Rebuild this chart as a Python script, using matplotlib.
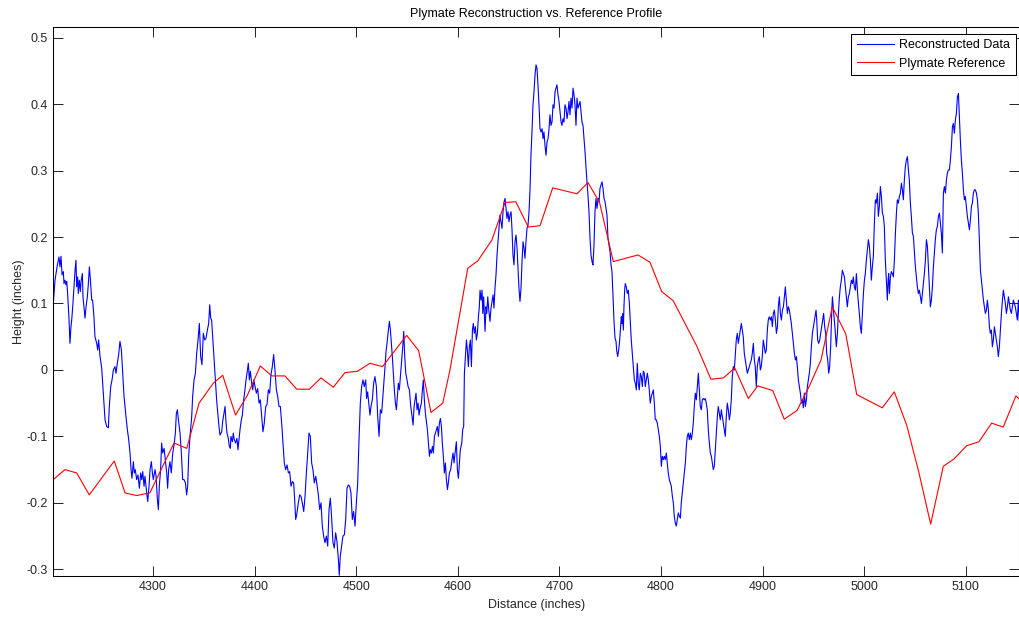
import matplotlib.pyplot as plt

plt.rcParams['font.family'] = ['Liberation Sans', 'DejaVu Sans']
plt.rcParams['axes.unicode_minus'] = False

# Plymate reference profile (red)
ref_dist = [4202.0, 4213.5, 4225.0, 4237.4, 4262.0, 4272.6, 4284.0, 4297.0, 4308.0, 4320.8,
            4333.3, 4345.4, 4359.4, 4368.7, 4381.3, 4393.0, 4405.7, 4417.0, 4430.0, 4441.5,
            4454.0, 4465.4, 4477.5, 4489.0, 4501.3, 4513.6, 4525.9, 4549.7, 4561.5, 4573.6,
            4585.2, 4592.3, 4609.8, 4619.6, 4633.4, 4646.5, 4657.1, 4669.4, 4680.9, 4693.4,
            4717.3, 4728.1, 4739.5, 4753.0, 4777.3, 4789.1, 4800.6, 4812.0, 4835.1, 4849.1,
            4861.3, 4872.5, 4885.9, 4895.1, 4909.9, 4921.2, 4933.8, 4946.3, 4957.4, 4968.5,
            4981.8, 4992.5, 5017.7, 5029.5, 5041.7, 5053.8, 5065.3, 5077.7, 5088.2, 5100.7,
            5112.8, 5125.3, 5136.7, 5149.2, 5152.5]
ref_height = [-0.165, -0.150, -0.155, -0.188, -0.137, -0.185, -0.189, -0.185, -0.150, -0.110,
              -0.118, -0.050, -0.020, -0.008, -0.068, -0.038, 0.006, -0.009, -0.009, -0.029,
              -0.029, -0.012, -0.026, -0.004, -0.002, 0.010, 0.005, 0.052, 0.029, -0.064,
              -0.050, 0.000, 0.153, 0.164, 0.195, 0.252, 0.253, 0.215, 0.217, 0.274,
              0.265, 0.282, 0.252, 0.163, 0.173, 0.162, 0.118, 0.104, 0.036, -0.014,
              -0.012, 0.003, -0.043, -0.024, -0.031, -0.074, -0.061, -0.023, 0.015, 0.095,
              0.054, -0.037, -0.057, -0.033, -0.083, -0.155, -0.232, -0.145, -0.134, -0.114,
              -0.108, -0.080, -0.086, -0.039, -0.044]

# reconstructed profile (blue)
recon_dist = [
    4202.0, 4203.7, 4206.0, 4207.6, 4208.6, 4209.6, 4210.6, 4211.9, 4212.5, 4213.5,
    4214.5, 4215.2, 4216.1, 4216.8, 4217.5, 4218.4, 4219.4, 4220.1, 4221.1, 4222.4,
    4223.4, 4224.3, 4225.0, 4226.0, 4226.6, 4227.6, 4228.6, 4229.3, 4230.6, 4231.2,
    4232.5, 4233.2, 4234.2, 4235.5, 4236.5, 4237.5, 4238.4, 4239.8, 4240.7, 4242.0,
    4243.0, 4244.7, 4245.7, 4246.6, 4248.0, 4249.6, 4250.6, 4251.6, 4252.9, 4254.5,
    4256.2, 4257.1, 4258.5, 4259.8, 4261.1, 4262.7, 4263.7, 4265.0, 4266.3, 4267.6,
    4269.0, 4270.3, 4271.6, 4273.5, 4274.9, 4276.2, 4277.5, 4278.5, 4279.4, 4280.8,
    4281.7, 4282.7, 4284.0, 4285.3, 4286.7, 4288.0, 4289.0, 4290.0, 4291.3, 4292.2,
    4293.9, 4294.9, 4296.2, 4297.2, 4298.5, 4299.5, 4300.4, 4302.1, 4303.1, 4304.4,
    4305.4, 4306.3, 4307.6, 4308.6, 4309.6, 4311.0, 4312.2, 4313.6, 4314.5, 4315.5,
    4316.8, 4318.1, 4319.5, 4320.8, 4322.1, 4323.1, 4324.1, 4325.1, 4326.7, 4328.0,
    4329.3, 4330.6, 4332.0, 4333.2, 4334.2, 4335.2, 4336.5, 4338.2, 4339.1, 4340.5,
    4341.8, 4343.1, 4344.4, 4345.7, 4347.0, 4348.3, 4349.6, 4351.0, 4352.3, 4353.6,
    4354.9, 4355.9, 4356.9, 4357.8, 4358.8, 4360.1, 4361.1,
    4362.7, 4365.0, 4366.0, 4367.7, 4368.6, 4370.0, 4371.0, 4371.9, 4372.9, 4374.2,
    4375.2, 4376.2, 4376.8, 4378.2, 4379.1, 4380.1, 4381.4, 4382.7, 4383.7, 4384.7,
    4385.7, 4386.7, 4388.0, 4389.3, 4390.6, 4391.6, 4392.6, 4393.9, 4394.9, 4395.9,
    4397.2, 4398.2, 4399.2, 4400.5, 4401.8, 4403.1, 4404.4, 4405.7, 4407.0, 4408.3,
    4409.6, 4411.0, 4412.3, 4413.6, 4414.9, 4416.2, 4417.5, 4418.8, 4420.1, 4421.5,
    4422.8, 4424.1, 4425.4, 4426.7, 4428.0, 4429.3, 4430.6, 4432.0, 4433.3, 4434.6,
    4435.9, 4437.2, 4438.5, 4439.5, 4440.5, 4441.5, 4443.1, 4444.4, 4445.7, 4447.0,
    4448.4, 4449.7, 4451.0, 4452.3, 4453.6, 4454.9, 4456.2, 4457.5, 4458.8, 4460.2,
    4461.5, 4462.8, 4464.1, 4465.4, 4466.7, 4468.0, 4469.3, 4470.7, 4472.0, 4473.3,
    4474.6, 4475.9, 4477.2, 4478.5, 4479.8, 4481.1, 4482.5, 4483.4, 4484.4, 4485.7,
    4487.0, 4488.4, 4489.7, 4491.0, 4492.3, 4493.6, 4494.9, 4496.2, 4497.5, 4498.9,
    4500.2, 4501.5, 4502.8, 4504.1, 4505.4, 4506.7, 4508.0, 4509.4, 4510.3, 4511.3,
    4512.6, 4513.6, 4514.6, 4515.9, 4517.2, 4518.5, 4519.9, 4521.2, 4522.5, 4523.8,
    4525.1, 4526.8, 4528.4, 4529.4, 4530.7, 4531.7, 4532.7, 4533.7, 4534.7, 4535.6,
    4536.6, 4537.6, 4538.6, 4539.6, 4540.6, 4541.5, 4542.5, 4543.8, 4545.1, 4546.1,
    4546.8, 4547.8, 4548.8, 4549.7, 4551.1, 4552.4, 4553.7, 4555.0, 4556.0, 4557.0,
    4557.9, 4558.9, 4559.9, 4560.9, 4561.9, 4562.9, 4564.2, 4565.2, 4566.1, 4567.1,
    4568.1, 4569.1, 4570.1, 4571.1, 4572.1, 4573.0, 4574.0, 4575.0, 4576.0, 4577.0,
    4578.0, 4579.0, 4579.9, 4580.9, 4581.9, 4582.9, 4583.9, 4584.8, 4585.8, 4586.8,
    4587.8, 4588.8, 4589.8, 4590.7, 4591.7, 4593.0, 4594.3, 4595.3, 4596.3, 4597.3,
    4598.6, 4599.6, 4600.6, 4601.6, 4602.5, 4603.9, 4604.8, 4605.8, 4606.5, 4607.5,
    4608.5, 4609.4, 4610.4, 4611.4, 4612.4, 4613.4, 4614.4, 4615.3, 4616.3, 4617.3,
    4618.3, 4619.3, 4620.3, 4621.2, 4621.9,
    4622.9, 4623.9, 4624.6, 4625.5, 4626.8, 4627.8, 4628.5, 4629.5, 4630.5,
    4631.7, 4632.7, 4633.7, 4634.7, 4635.6, 4636.6, 4637.6, 4638.6, 4639.6, 4640.6,
    4641.5, 4642.5, 4643.5, 4644.5, 4645.5, 4646.5, 4647.4, 4648.4, 4649.4, 4650.4,
    4651.4, 4652.4, 4653.3, 4654.3, 4655.3, 4656.3, 4657.3, 4658.3, 4659.3, 4660.2,
    4661.2, 4662.2, 4663.2, 4664.2, 4665.2, 4666.1, 4667.1, 4668.1, 4669.1, 4670.1,
    4671.1, 4672.0, 4673.0, 4674.0, 4675.0, 4676.0, 4677.0, 4677.9, 4678.9, 4679.9,
    4680.9, 4681.9, 4682.9, 4683.9, 4684.8, 4685.8, 4686.8, 4687.8, 4688.8, 4689.8,
    4690.7, 4691.7, 4692.7, 4693.7, 4694.7, 4695.7, 4696.6, 4697.6, 4698.6, 4699.6,
    4700.6, 4701.6, 4702.5, 4703.5, 4704.5, 4705.5, 4706.5, 4707.5, 4708.5, 4709.4,
    4710.4, 4711.4, 4712.4, 4713.4, 4714.4, 4715.3, 4716.3, 4717.3, 4718.3, 4719.3,
    4720.3, 4721.2, 4722.2, 4723.2, 4724.2, 4725.2, 4726.2, 4727.1, 4728.1, 4729.1,
    4730.1, 4731.1, 4732.1, 4733.0, 4734.0, 4735.0, 4736.0, 4737.0, 4738.0, 4739.0,
    4739.9, 4740.9, 4741.9, 4742.9, 4743.9, 4744.9, 4745.8, 4746.8, 4747.8, 4748.8,
    4749.8, 4750.8, 4751.7, 4752.7, 4753.7, 4754.7, 4755.7,
    4756.3, 4757.3, 4758.3, 4759.3, 4760.2, 4760.9, 4761.5, 4762.2, 4762.9, 4763.5,
    4764.2, 4764.8, 4765.8, 4766.8, 4767.8, 4768.8, 4769.7, 4770.7, 4771.7, 4772.7,
    4773.7, 4774.7, 4775.7, 4776.6, 4777.6, 4778.6, 4779.6, 4780.6, 4781.6, 4782.5,
    4783.5, 4784.5, 4785.5, 4786.5, 4787.5, 4788.4, 4789.4, 4790.4, 4791.4, 4792.4,
    4793.4, 4794.3, 4795.3, 4796.3, 4797.3, 4798.3, 4799.3, 4800.3, 4801.2, 4802.2,
    4803.2, 4804.2, 4805.2, 4806.2, 4807.1, 4808.1, 4809.1, 4810.1, 4811.1, 4812.1,
    4813.0, 4814.0, 4815.0, 4816.0, 4817.0, 4818.0, 4819.0, 4819.9, 4820.9, 4821.9,
    4822.9, 4823.9, 4824.9, 4825.8, 4826.8, 4827.8, 4828.8, 4829.8, 4830.8, 4831.7,
    4832.7, 4833.7, 4834.7, 4835.7, 4836.7, 4837.6, 4838.6, 4839.6, 4840.6, 4841.6,
    4842.6, 4843.5, 4844.5, 4845.5, 4846.5, 4847.5, 4848.5, 4849.5, 4850.4, 4851.4,
    4852.4, 4853.4, 4854.4, 4855.4, 4856.3, 4857.3, 4858.3, 4859.3, 4860.3, 4861.3,
    4862.2, 4863.2, 4864.2, 4865.2, 4866.2, 4867.2, 4868.1, 4869.1, 4870.1, 4871.1,
    4872.1, 4873.1, 4874.0, 4875.0, 4876.0, 4877.0, 4878.0, 4879.0, 4880.0, 4880.9,
    4881.9, 4882.9, 4883.9, 4884.9, 4885.9, 4886.8, 4887.8, 4888.8, 4889.8, 4890.8,
    4891.8, 4892.7, 4893.7, 4894.7, 4895.7, 4896.7, 4897.7, 4898.6, 4899.6, 4900.6,
    4901.6, 4902.6, 4903.6, 4904.6, 4905.5, 4906.5,
    4907.6, 4908.6, 4909.5, 4910.5, 4911.5, 4912.5, 4913.5, 4914.5, 4915.4, 4916.4,
    4917.4, 4918.4, 4919.4, 4920.4, 4921.3, 4922.3, 4923.3, 4924.3, 4925.3, 4926.3,
    4927.2, 4928.2, 4929.2, 4930.2, 4931.2, 4932.2, 4933.2, 4934.1, 4935.1, 4936.1,
    4937.1, 4938.1, 4939.1, 4940.0, 4941.0, 4942.0, 4943.0, 4944.0, 4945.0, 4945.9,
    4946.9, 4947.9, 4948.9, 4949.9, 4950.9, 4951.9, 4952.5, 4953.2, 4954.1, 4955.1,
    4956.1, 4957.1, 4958.1, 4959.1, 4960.0, 4961.0, 4962.0, 4963.0, 4964.0, 4965.0,
    4965.9, 4966.9, 4967.9, 4968.6, 4969.6, 4970.5, 4971.5, 4972.5, 4973.5, 4974.5,
    4975.5, 4976.4, 4977.4, 4978.4, 4979.4, 4980.4, 4981.4, 4982.4, 4983.3, 4984.3,
    4985.3, 4986.3, 4987.3, 4988.3, 4989.2, 4990.2, 4991.2, 4992.2, 4993.2, 4994.2,
    4995.1, 4996.1, 4997.1, 4998.1, 4999.1, 5000.1, 5001.0, 5002.0, 5003.0, 5004.0,
    5005.0, 5006.0, 5006.9, 5007.9, 5008.9, 5009.9, 5010.9, 5011.9, 5012.9, 5013.8,
    5014.8, 5015.8, 5016.8, 5017.8, 5018.8, 5019.7, 5020.7, 5021.7, 5022.7, 5023.4,
    5024.0, 5024.7, 5025.7, 5026.6, 5027.6, 5028.6, 5029.6, 5030.6, 5031.6, 5032.5,
    5033.5, 5034.5, 5035.5, 5036.5, 5037.5, 5038.4, 5039.4, 5040.4, 5041.4, 5042.4,
    5043.4, 5044.3, 5045.3, 5046.3, 5047.3, 5048.3, 5049.3, 5050.2, 5051.2, 5052.2,
    5053.2, 5054.2, 5055.2, 5056.2, 5057.1, 5058.1, 5059.1, 5060.1, 5061.1, 5062.1,
    5063.0, 5064.0, 5065.0, 5066.0, 5067.0, 5068.0, 5069.0, 5069.9, 5070.9, 5071.9,
    5072.9, 5073.9, 5074.8, 5075.8, 5076.8, 5077.8, 5078.8, 5079.8, 5080.8, 5081.7,
    5082.7, 5083.7, 5084.7, 5085.7, 5086.7, 5087.6, 5088.6, 5089.6, 5090.6, 5091.6,
    5092.6, 5093.5, 5094.5, 5095.5, 5096.5, 5097.5, 5098.5, 5099.4, 5100.4, 5101.4,
    5102.4, 5103.4, 5104.4, 5105.4, 5106.3, 5107.3, 5108.3, 5109.3, 5110.3, 5111.3,
    5112.2, 5113.2, 5114.2, 5115.2, 5116.2, 5117.2, 5118.1, 5119.1, 5120.1, 5121.1,
    5122.1, 5123.1, 5124.0, 5125.0, 5126.0, 5127.0, 5128.0, 5129.0, 5130.0, 5130.9,
    5131.9, 5132.9, 5133.9, 5134.9, 5135.9, 5136.8, 5137.8, 5138.8, 5139.8, 5140.8,
    5141.8, 5142.7, 5143.7, 5144.7, 5145.7, 5146.7, 5147.7, 5148.6, 5149.6, 5150.6,
    5151.6, 5152.5,
]
recon_height = [
    0.100, 0.135, 0.158, 0.170, 0.155, 0.171, 0.143, 0.148, 0.130, 0.135,
    0.128, 0.133, 0.115, 0.095, 0.075, 0.040, 0.065, 0.075, 0.095, 0.125,
    0.150, 0.165, 0.125, 0.140, 0.115, 0.135, 0.118, 0.133, 0.145, 0.110,
    0.090, 0.078, 0.095, 0.110, 0.130, 0.155, 0.138, 0.105, 0.105, 0.080,
    0.050, 0.040, 0.030, 0.045, 0.020, 0.003, -0.020, -0.045, -0.075, -0.085,
    -0.087, -0.055, -0.025, -0.015, 0.000, 0.005, -0.005, 0.010, 0.023, 0.043,
    0.030, -0.005, -0.040, -0.070, -0.090, -0.105, -0.125, -0.150, -0.163, -0.138,
    -0.155, -0.150, -0.165, -0.158, -0.178, -0.155, -0.165, -0.153, -0.175, -0.160,
    -0.185, -0.198, -0.175, -0.150, -0.138, -0.155, -0.165, -0.150, -0.160, -0.195,
    -0.210, -0.175, -0.150, -0.110, -0.125, -0.118, -0.135, -0.155, -0.178, -0.150,
    -0.138, -0.155, -0.125, -0.113, -0.095, -0.065, -0.060, -0.075, -0.095, -0.125,
    -0.165, -0.165, -0.170, -0.188, -0.175, -0.130, -0.100, -0.070, -0.040, -0.015,
    -0.005, 0.025, 0.045, 0.070, 0.020, 0.008, 0.055, 0.045, 0.048, 0.060,
    0.070, 0.098, 0.078, 0.075, 0.050, 0.020, -0.010,
    -0.045, -0.085, -0.098, -0.093, -0.078, -0.065, -0.055, -0.078, -0.095, -0.103,
    -0.115, -0.118, -0.100, -0.108, -0.095, -0.105, -0.110, -0.103, -0.120, -0.105,
    -0.090, -0.078, -0.068, -0.045, -0.030, -0.015, -0.005, 0.010, -0.015, -0.002,
    -0.020, -0.030, -0.015, -0.025, -0.035, -0.028, -0.050, -0.045, -0.070, -0.093,
    -0.080, -0.055, -0.052, -0.030, -0.035, -0.007, 0.005, 0.023, 0.000, -0.030,
    -0.040, -0.055, -0.055, -0.080, -0.110, -0.140, -0.150, -0.143, -0.155, -0.153,
    -0.175, -0.168, -0.170, -0.195, -0.225, -0.218, -0.200, -0.188, -0.190, -0.200,
    -0.213, -0.190, -0.155, -0.125, -0.095, -0.100, -0.140, -0.150, -0.170, -0.160,
    -0.173, -0.188, -0.210, -0.200, -0.235, -0.250, -0.260, -0.250, -0.265, -0.210,
    -0.193, -0.223, -0.260, -0.268, -0.245, -0.258, -0.285, -0.309, -0.280, -0.265,
    -0.250, -0.248, -0.225, -0.178, -0.173, -0.175, -0.185, -0.225, -0.213, -0.235,
    -0.200, -0.170, -0.105, -0.050, -0.025, -0.015, -0.025, -0.015, -0.043, -0.033,
    -0.053, -0.068, -0.055, -0.045, -0.020, -0.010, -0.025, -0.070, -0.100, -0.060,
    -0.065, -0.030, 0.005, 0.028, 0.045, 0.060, 0.073, 0.060, 0.040, 0.020,
    -0.005, -0.030, -0.050, -0.060, -0.040, -0.020, -0.030, -0.005, 0.020, 0.040,
    0.058, 0.020, -0.005, -0.012, -0.025, -0.030, -0.055, -0.070, -0.083, -0.055,
    -0.045, -0.035, -0.060, -0.050, -0.068, -0.058, -0.050, -0.030, -0.015, -0.045,
    -0.065, -0.078, -0.090, -0.110, -0.130, -0.120, -0.125, -0.115, -0.125, -0.100,
    -0.095, -0.090, -0.085, -0.100, -0.080, -0.073, -0.085, -0.110, -0.130, -0.155,
    -0.140, -0.165, -0.180, -0.170, -0.155, -0.150, -0.135, -0.125, -0.140, -0.125,
    -0.108, -0.150, -0.163, -0.140, -0.120, -0.110, -0.090, -0.085, -0.005, 0.020,
    0.045, 0.030, 0.005, 0.035, 0.045, 0.005, 0.060, 0.070, 0.055, 0.065,
    0.045, 0.055, 0.080, 0.095, 0.120,
    0.105, 0.120, 0.085, 0.110, 0.058, 0.095, 0.085, 0.110, 0.090,
    0.073, 0.093, 0.103, 0.113, 0.093, 0.123, 0.143, 0.173, 0.193, 0.213,
    0.233, 0.223, 0.213, 0.238, 0.253, 0.258, 0.243, 0.228, 0.238, 0.223,
    0.233, 0.238, 0.213, 0.173, 0.158, 0.193, 0.203, 0.183, 0.153, 0.123,
    0.103, 0.123, 0.163, 0.193, 0.183, 0.168, 0.193, 0.213, 0.218, 0.238,
    0.273, 0.323, 0.358, 0.399, 0.419, 0.444, 0.459, 0.454, 0.429, 0.399,
    0.363, 0.358, 0.363, 0.348, 0.358, 0.338, 0.323, 0.343, 0.348, 0.363,
    0.384, 0.368, 0.373, 0.399, 0.394, 0.419, 0.424, 0.429, 0.414, 0.404,
    0.389, 0.373, 0.368, 0.378, 0.373, 0.399, 0.394, 0.378, 0.389, 0.404,
    0.384, 0.409, 0.394, 0.424, 0.414, 0.399, 0.368, 0.409, 0.394, 0.399,
    0.404, 0.389, 0.373, 0.368, 0.348, 0.328, 0.303, 0.283, 0.263, 0.238,
    0.198, 0.173, 0.163, 0.158, 0.188, 0.238, 0.258, 0.243, 0.258, 0.253,
    0.273, 0.278, 0.283, 0.273, 0.258, 0.253, 0.243, 0.233, 0.198, 0.188,
    0.178, 0.158, 0.148, 0.113, 0.073, 0.048, 0.043,
    0.030, 0.020, 0.030, 0.045, 0.065, 0.080, 0.070, 0.085, 0.060, 0.095,
    0.120, 0.130, 0.125, 0.115, 0.120, 0.100, 0.075, 0.045, 0.025, 0.005,
    -0.015, -0.020, -0.030, 0.010, -0.020, -0.030, -0.005, -0.010, -0.025, -0.002,
    -0.005, -0.025, -0.015, -0.005, -0.015, -0.030, -0.050, -0.040, -0.035, -0.030,
    -0.050, -0.075, -0.075, -0.080, -0.090, -0.100, -0.115, -0.145, -0.130, -0.135,
    -0.130, -0.135, -0.125, -0.140, -0.155, -0.165, -0.170, -0.175, -0.190, -0.200,
    -0.220, -0.230, -0.235, -0.225, -0.215, -0.220, -0.223, -0.200, -0.185, -0.170,
    -0.155, -0.140, -0.115, -0.100, -0.095, -0.105, -0.095, -0.105, -0.095, -0.080,
    -0.055, -0.035, -0.045, -0.025, -0.005, -0.030, -0.055, -0.060, -0.045, -0.043,
    -0.045, -0.043, -0.050, -0.060, -0.090, -0.110, -0.125, -0.130, -0.140, -0.150,
    -0.145, -0.120, -0.095, -0.070, -0.055, -0.065, -0.075, -0.060, -0.070, -0.080,
    -0.090, -0.100, -0.070, -0.050, -0.060, -0.075, -0.065, -0.045, -0.010, 0.005,
    0.000, 0.025, 0.045, 0.055, 0.040, 0.050, 0.060, 0.070, 0.060, 0.050,
    0.025, 0.015, 0.005, -0.005, 0.000, 0.005, 0.010, 0.015, 0.025, 0.040,
    0.015, 0.005, -0.025, 0.005, 0.015, 0.020, 0.000, 0.005, 0.020, 0.045,
    0.035, 0.025, 0.030, 0.060, 0.075, 0.080,
    0.075, 0.080, 0.065, 0.085, 0.090, 0.075, 0.055, 0.065, 0.095, 0.110,
    0.085, 0.075, 0.090, 0.095, 0.110, 0.125, 0.105, 0.085, 0.095, 0.090,
    0.080, 0.070, 0.055, 0.040, 0.025, 0.015, 0.020, 0.005, -0.015, -0.025,
    -0.035, -0.050, -0.045, -0.057, -0.035, -0.055, -0.045, -0.025, -0.015, -0.005,
    0.010, 0.035, 0.055, 0.065, 0.075, 0.085, 0.090, 0.075, 0.045, 0.040,
    0.045, 0.055, 0.065, 0.075, 0.085, 0.065, 0.055, 0.025, 0.015, -0.005,
    0.005, 0.035, 0.085, 0.110, 0.090, 0.075, 0.055, 0.035, 0.055, 0.085,
    0.110, 0.125, 0.135, 0.150, 0.145, 0.140, 0.125, 0.110, 0.095, 0.110,
    0.115, 0.125, 0.135, 0.130, 0.140, 0.125, 0.120, 0.145, 0.120, 0.100,
    0.085, 0.065, 0.055, 0.085, 0.115, 0.135, 0.145, 0.165, 0.181, 0.196,
    0.186, 0.165, 0.135, 0.155, 0.171, 0.221, 0.256, 0.251, 0.266, 0.231,
    0.246, 0.276, 0.261, 0.236, 0.231, 0.216, 0.165, 0.135, 0.105, 0.135,
    0.145, 0.115, 0.140, 0.148, 0.145, 0.140, 0.165, 0.206, 0.236, 0.256,
    0.251, 0.261, 0.266, 0.281, 0.271, 0.256, 0.286, 0.306, 0.316, 0.321,
    0.301, 0.286, 0.251, 0.231, 0.206, 0.201, 0.176, 0.156, 0.140, 0.125,
    0.115, 0.120, 0.110, 0.100, 0.115, 0.130, 0.145, 0.165, 0.196, 0.186,
    0.156, 0.125, 0.095, 0.105, 0.125, 0.156, 0.176, 0.196, 0.211, 0.216,
    0.231, 0.236, 0.221, 0.206, 0.176, 0.266, 0.276, 0.266, 0.286, 0.296,
    0.301, 0.301, 0.316, 0.336, 0.366, 0.371, 0.356, 0.376, 0.386, 0.411,
    0.416, 0.381, 0.346, 0.316, 0.296, 0.271, 0.256, 0.261, 0.246, 0.231,
    0.221, 0.211, 0.226, 0.246, 0.251, 0.266, 0.271, 0.271, 0.266, 0.256,
    0.236, 0.196, 0.151, 0.135, 0.120, 0.105, 0.095, 0.085, 0.090, 0.105,
    0.090, 0.065, 0.055, 0.060, 0.035, 0.045, 0.065, 0.055, 0.045, 0.035,
    0.020, 0.035, 0.060, 0.085, 0.105, 0.120, 0.110, 0.100, 0.085, 0.095,
    0.110, 0.100, 0.090, 0.085, 0.095, 0.105, 0.100, 0.095, 0.085, 0.075,
    0.105, 0.075,
]
assert len(recon_dist) == len(recon_height)

x_ticks = [4300, 4400, 4500, 4600, 4700, 4800, 4900, 5000, 5100]
y_ticks = [-0.3, -0.2, -0.1, 0.0, 0.1, 0.2, 0.3, 0.4, 0.5]
y_tick_labels = ['-0.3', '-0.2', '-0.1', '0', '0.1', '0.2', '0.3', '0.4', '0.5']

fig = plt.figure(figsize=(10.2, 6.17), dpi=100)
ax = fig.add_axes([53.3 / 1020, 41.3 / 617, 966.2 / 1020, 548.7 / 617])

ax.plot(recon_dist, recon_height, color='#0000ff', lw=0.8, label='Reconstructed Data')
ax.plot(ref_dist, ref_height, color='#ff0000', lw=0.8, label='Plymate Reference')

ax.set_xlim(4202, 5152.7)
ax.set_ylim(-0.3096, 0.516)
ax.set_xticks(x_ticks)
ax.set_xticklabels([str(t) for t in x_ticks])
ax.set_yticks(y_ticks)
ax.set_yticklabels(y_tick_labels)

# matlab-ish axes: ticks inside, on all four sides
ax.tick_params(direction='in', length=7, width=0.6, top=True, right=True,
               labelsize=9, pad=4, labelcolor='#262626', color='black')
for s in ax.spines.values():
    s.set_linewidth(0.75)
    s.set_color('black')

ax.set_title('Plymate Reconstruction vs. Reference Profile', fontsize=9, pad=7, color='black')
ax.set_xlabel('Distance (inches)', fontsize=9, color='#262626', va='center')
ax.set_ylabel('Height (inches)', fontsize=9, color='#262626', va='center')
ax.xaxis.set_label_coords(0.5, -0.054)
ax.yaxis.set_label_coords(-0.0355, 0.5)

leg = ax.legend(loc='upper right', bbox_to_anchor=(1016 / 1020, 1 - 33.7 / 617),
                bbox_transform=fig.transFigure, borderaxespad=0, fontsize=9,
                fancybox=False, framealpha=1, edgecolor='black',
                handlelength=3.0, handletextpad=0.4, borderpad=0.45, labelspacing=0.5)
leg.get_frame().set_linewidth(0.75)

fig.savefig('out.png', dpi=100)
